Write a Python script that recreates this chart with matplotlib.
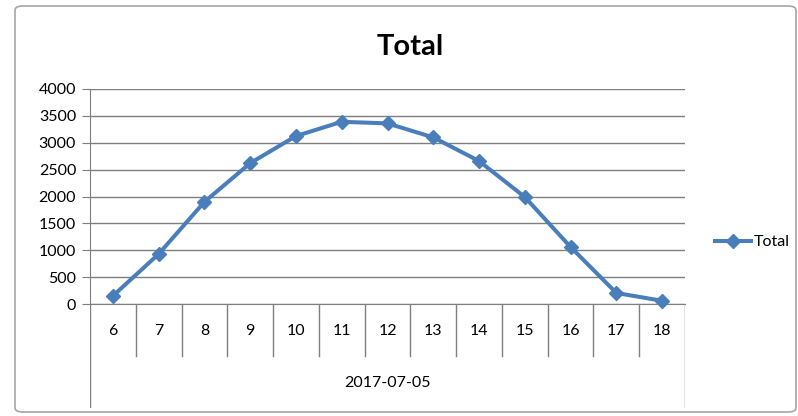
import matplotlib.pyplot as plt
from matplotlib.patches import FancyBboxPatch

hours = ['6', '7', '8', '9', '10', '11', '12', '13', '14', '15', '16', '17', '18']
totals = [150, 930, 1900, 2620, 3125, 3390, 3360, 3100, 2660, 1990, 1060, 205, 60]
date_label = '2017-07-05'
yticks = [0, 500, 1000, 1500, 2000, 2500, 3000, 3500, 4000]

plt.rcParams['font.family'] = ['Lato', 'DejaVu Sans']
W, H = 798, 416
fig = plt.figure(figsize=(W / 100, H / 100), dpi=100)

# chart frame, kept behind the axes
frame = FancyBboxPatch((15 / W, 4 / H), 781 / W, 406 / H,
                       boxstyle='round,pad=0,rounding_size=0.01',
                       transform=fig.transFigure, facecolor='none',
                       edgecolor='#a6a6a6', lw=1.2, zorder=-1)
fig.patches.append(frame)

grid_c = '#7f7f7f'
line_c = '#4a7ebb'

ax = fig.add_axes([90 / W, (H - 304) / H, 595 / W, 215 / H])
x = list(range(len(hours)))
ax.plot(x, totals, color=line_c, lw=2.9, marker='D', ms=7,
        markeredgecolor=line_c, markerfacecolor=line_c, label='Total',
        zorder=3, clip_on=False)
ax.set_xlim(-0.5, len(hours) - 0.5)
ax.set_ylim(0, 4000)
ax.set_yticks(yticks)
ax.set_yticklabels([str(v) for v in yticks], fontsize=11.5)
ax.yaxis.grid(True, color=grid_c, lw=1)
ax.set_axisbelow(True)
ax.set_xticks([])
for s in ['top', 'right']:
    ax.spines[s].set_visible(False)
ax.spines['left'].set_color(grid_c)
ax.spines['bottom'].set_color(grid_c)
ax.tick_params(axis='y', length=6, color=grid_c, pad=4)
ax.set_facecolor('none')

# two-level category axis below the plot
cat = fig.add_axes([90 / W, (H - 408) / H, 595 / W, 104 / H])
cat.set_xlim(-0.5, len(hours) - 0.5)
cat.set_ylim(0, 104)
cat.axis('off')
for k in range(1, len(hours)):
    cat.plot([k - 0.5, k - 0.5], [104, 52], color=grid_c, lw=1)
for edge in [-0.5, len(hours) - 0.5]:
    cat.plot([edge, edge], [104, 0], color=grid_c, lw=1)
for k, h in enumerate(hours):
    cat.text(k, 77, h, ha='center', va='center', fontsize=11.5)
cat.text((len(hours) - 1) / 2, 25, date_label, ha='center', va='center', fontsize=11.5)

fig.text(410 / W, 1 - 47 / H, 'Total', ha='center', va='center',
         fontsize=21, fontweight='bold')

fig.legend(loc='center left', bbox_to_anchor=(709 / W, 1 - 242 / H),
           frameon=False, fontsize=11.5, handlelength=2.2, handletextpad=0.2,
           borderaxespad=0)

fig.savefig('out.png', dpi=100)
